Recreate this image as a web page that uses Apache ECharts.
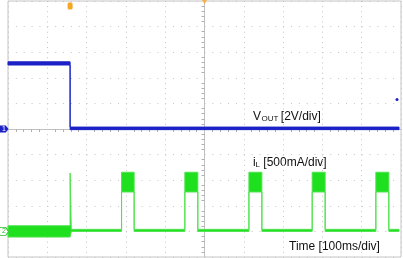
<!DOCTYPE html>
<html>
<head>
<meta charset="utf-8">
<script src="https://cdn.jsdelivr.net/npm/echarts@6/dist/echarts.min.js"></script>
<style>
html,body{margin:0;padding:0;background:#fff;}
#c{width:403px;height:258px;}
</style>
</head>
<body>
<div id="c"></div>
<script>
// Time axis: ms relative to screen centre, 100 ms/div
const timeTicks = [-500,-400,-300,-200,-100,0,100,200,300,400,500];
// VOUT envelope [time ms, min V, max V], 2 V/div, ground at centre
const voutEnvelope = [
  [-500, 5.0, 5.25],
  [-342, 5.0, 5.25],
  [-342, -0.05, 0.15],
  [495, -0.05, 0.15]
];
// iL envelope [time ms, min mA, max mA], 500 mA/div, ground 4 div below centre
const ilEnvelope = [
  [-500, -110, 110],
  [-342, -110, 110],
  [-342, -110, 1140],
  [-339, 0, 40],
  [-211, 0, 40], [-211, 770, 1155], [-179, 770, 1155], [-179, 0, 40],
  [-50, 0, 40], [-50, 770, 1155], [-17, 770, 1155], [-17, 0, 40],
  [113, 0, 40], [113, 770, 1155], [146, 770, 1155], [146, 0, 40],
  [274, 0, 40], [274, 770, 1155], [307, 770, 1155], [307, 0, 40],
  [436, 0, 40], [436, 770, 1155], [469, 770, 1155], [469, 0, 40],
  [495, 0, 40]
];
const triggerTime = -342;

const chart = echarts.init(document.getElementById('c'), null, {renderer:'canvas'});

function envelopeSeries(name, env, yIdx, color, stroke) {
  return {
    type: 'custom', name: name, yAxisIndex: yIdx, silent: true,
    data: [[env[0][0], env[0][1]]],
    renderItem: function (params, api) {
      const upper = env.map(p => api.coord([p[0], p[2]]));
      const lower = env.slice().reverse().map(p => api.coord([p[0], p[1]]));
      return {
        type: 'polygon',
        shape: { points: upper.concat(lower) },
        style: { fill: color, stroke: stroke, lineWidth: 1 }
      };
    }
  };
}

const gridColor = '#c4c4c4';
const option = {
  animation: false,
  backgroundColor: '#ffffff',
  grid: { left: 8, right: 2, top: 1, bottom: 1, show: true, borderColor: '#c4c4c4', borderWidth: 1 },
  xAxis: {
    type: 'value', min: timeTicks[0], max: timeTicks[timeTicks.length-1], interval: 100,
    axisLabel: { show: false },
    axisLine: { show: true, onZero: true, lineStyle: { color: '#c0c0c0', width: 1 } },
    axisTick: { show: false },
    minorTick: { show: true, splitNumber: 5, length: 3, lineStyle: { color: '#b0b0b0' } },
    splitLine: { show: true, lineStyle: { color: gridColor, type: [1, 4.12], width: 1 } }
  },
  yAxis: [{
    type: 'value', min: -10, max: 10, interval: 2,
    axisLabel: { show: false },
    axisLine: { show: true, onZero: true, lineStyle: { color: '#c0c0c0', width: 1 } },
    axisTick: { show: false },
    minorTick: { show: true, splitNumber: 5, length: 3, lineStyle: { color: '#b0b0b0' } },
    splitLine: { show: true, lineStyle: { color: gridColor, type: [1, 6.86], width: 1 } }
  }, {
    type: 'value', min: -500, max: 4500, interval: 500,
    show: false, splitLine: { show: false }
  }],
  series: [
    Object.assign(envelopeSeries('iL', ilEnvelope, 1, '#1fe01f', '#4ee24e'), {
      markPoint: {
        symbol: 'path://M0,0 L7,0 L10,3.5 L7,7 L0,7 Z', symbolSize: [9, 8],
        itemStyle: { color: '#ffffff', borderColor: '#2ec02e', borderWidth: 1 },
        label: { show: true, formatter: '2', fontSize: 7, color: '#2ec02e', fontFamily: 'Liberation Sans' },
        data: [{ coord: [timeTicks[0], 0], symbolOffset: [-4, 0] }]
      }
    }),
    Object.assign(envelopeSeries('VOUT', voutEnvelope, 0, '#1c22c6', '#1c22c6'), {
      markPoint: {
        data: [
          { coord: [timeTicks[0], 0], symbol: 'path://M0,0 L7,0 L10,3.5 L7,7 L0,7 Z', symbolSize: [9, 7], symbolOffset: [-4, 0],
            itemStyle: { color: '#1c22c6' },
            label: { show: true, formatter: '1', fontSize: 7, color: '#ffffff', fontFamily: 'Liberation Sans' } },
          { coord: [triggerTime, 10], symbol: 'roundRect', symbolSize: [5, 7], symbolOffset: [0, 5],
            itemStyle: { color: '#f5a623' }, label: { show: false } },
          { coord: [0, 10], symbol: 'triangle', symbolRotate: 180, symbolSize: [5, 4], symbolOffset: [0, 1],
            itemStyle: { color: '#f5b04a' }, label: { show: false } },
          { coord: [timeTicks[timeTicks.length-1], 2.3], symbol: 'circle', symbolSize: 3, symbolOffset: [-4, 0],
            itemStyle: { color: '#1c22c6' }, label: { show: false } }
        ]
      }
    })
  ],
  graphic: [
    { type: 'text', left: 253, top: 110.5, style: { text: 'V', font: '12px "Liberation Sans", Arial', fill: '#111' } },
    { type: 'text', left: 261.5, top: 115, style: { text: 'OUT', font: '8px "Liberation Sans", Arial', fill: '#111' } },
    { type: 'text', left: 277.5, top: 110.5, style: { text: ' [2V/div]', font: '12px "Liberation Sans", Arial', fill: '#111' } },
    { type: 'text', left: 253, top: 156.5, style: { text: 'i', font: '12px "Liberation Sans", Arial', fill: '#111' } },
    { type: 'text', left: 255.5, top: 161, style: { text: 'L', font: '8px "Liberation Sans", Arial', fill: '#111' } },
    { type: 'text', left: 260, top: 156.5, style: { text: ' [500mA/div]', font: '12px "Liberation Sans", Arial', fill: '#111' } },
    { type: 'text', left: 289, top: 240.5, style: { text: 'Time [100ms/div]', font: '12px "Liberation Sans", Arial', fill: '#111' } }
  ]
};
chart.setOption(option);
</script>
</body>
</html>
